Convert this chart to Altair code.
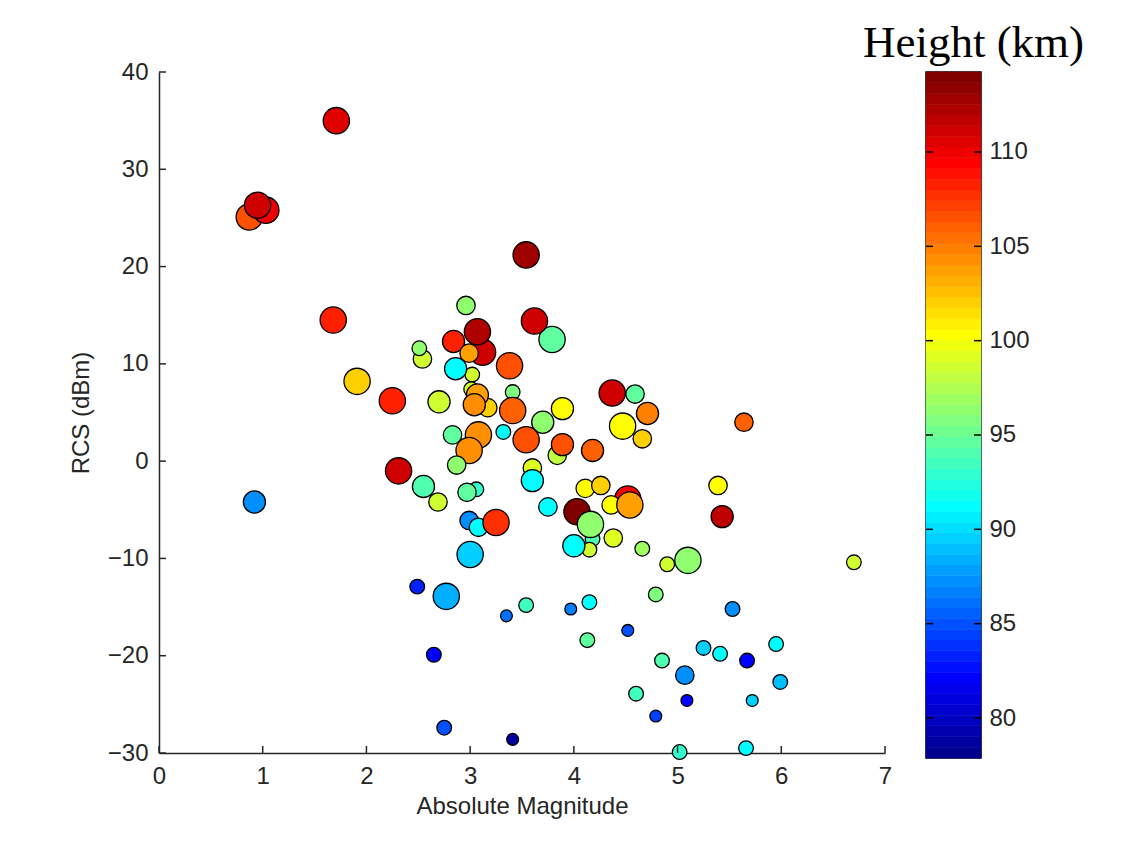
import altair as alt
import numpy as np
import pandas as pd

# ---- data ----
magnitude = [0.87, 1.03, 0.95, 1.71, 3.54, 1.68, 3.79, 3.62, 2.96, 3.12,
             3.07, 2.84, 2.99, 2.54, 2.51, 3.02, 2.86, 3.38, 1.91, 2.25,
             2.70, 3.01, 3.17, 3.07, 3.04, 3.41, 3.41, 3.70, 3.89, 2.83,
             3.32, 3.08, 2.99, 3.54, 3.84, 3.89, 3.60, 2.31, 2.87, 2.55,
             2.69, 3.06, 2.97, 3.60, 4.18, 4.37, 4.59, 4.71, 4.47, 4.66,
             5.64, 4.11, 4.26, 4.52, 4.36, 4.54, 4.03, 4.18, 4.15, 4.16,
             4.00, 4.38, 4.66, 4.90, 5.10, 5.39, 5.43, 6.70, 0.92, 2.99,
             3.08, 3.25, 3.00, 3.75, 2.49, 2.77, 3.54, 3.35, 3.97, 4.15,
             4.52, 4.79, 4.13, 2.65, 2.75, 3.41, 4.85, 4.60, 4.79, 5.07,
             5.09, 5.25, 5.41, 5.53, 5.67, 5.72, 5.95, 5.99, 5.02, 5.66]
rcs_dbm = [25.1, 25.8, 26.3, 35.0, 21.2, 14.5, 12.5, 14.4, 16.0, 11.2,
           13.3, 12.3, 11.1, 10.5, 11.6, 8.9, 9.5, 9.8, 8.2, 6.2,
           6.1, 7.4, 5.5, 6.8, 5.8, 7.1, 5.2, 4.0, 5.4, 2.7,
           3.0, 2.7, 1.1, 2.2, 0.6, 1.7, -0.7, -1.0, -0.4, -2.6,
           -4.2, -2.9, -3.2, -2.0, 1.1, 7.0, 6.9, 4.9, 3.6, 2.3,
           4.0, -2.8, -2.5, -3.9, -4.5, -4.5, -5.2, -8.0, -9.1, -6.5,
           -8.7, -7.9, -9.0, -10.6, -10.2, -2.5, -5.7, -10.4, -4.2, -6.1,
           -6.8, -6.3, -9.6, -4.7, -12.9, -13.9, -14.8, -15.9, -15.2, -14.5,
           -17.4, -13.7, -18.4, -19.9, -27.4, -28.6, -20.5, -23.9, -26.2, -22.0,
           -24.6, -19.2, -19.8, -15.2, -20.5, -24.6, -18.8, -22.7, -29.9, -29.5]
height_km = [106.5, 110, 111, 110.5, 113, 108.5, 94.5, 111, 96.5, 111,
             112.5, 108, 104, 98.5, 96.5, 98.5, 91.5, 106.5, 102, 108.5,
             98.5, 98.5, 102, 104, 104.5, 96, 106, 96.5, 100.5, 94.5,
             91.5, 104.5, 104.5, 106.5, 98, 106.5, 99, 111, 96.5, 94,
             98.5, 93, 94.5, 91.5, 106, 111, 94.5, 105, 100.5, 102,
             106, 100.5, 102, 109.5, 100.5, 104, 114, 94, 98.5, 96.5,
             91.5, 99, 97, 98.5, 96.5, 100.5, 111.5, 98.5, 87, 87.5,
             91.5, 107.5, 89.5, 91, 83, 88.5, 93.5, 86, 86.5, 91.5,
             85, 96, 94.5, 82, 85, 78.6, 94, 93.5, 84.5, 87,
             82, 89.5, 91, 87, 82, 89.5, 91.5, 89, 93, 91.5]
size_class = [5, 5, 5, 5, 5, 5, 5, 5, 3, 5,
              5, 4, 3, 3, 2, 2, 4, 5, 5, 5,
              4, 2, 3, 4, 4, 2, 5, 4, 4, 3,
              2, 5, 5, 5, 3, 4, 3, 5, 3, 4,
              3, 2, 3, 4, 4, 5, 3, 4, 5, 3,
              3, 3, 3, 5, 3, 5, 5, 2, 2, 5,
              4, 3, 2, 2, 5, 3, 4, 2, 4, 3,
              3, 5, 5, 3, 2, 5, 2, 1, 1, 2,
              1, 2, 2, 2, 2, 1, 2, 2, 1, 3,
              1, 2, 2, 2, 2, 1, 2, 2, 2, 2]

x_ticks = [0, 1, 2, 3, 4, 5, 6, 7]
y_ticks = [-30, -20, -10, 0, 10, 20, 30, 40]
cbar_ticks = [80, 85, 90, 95, 100, 105, 110]
cbar_min, cbar_max = 77.88, 114.24


# ---- MATLAB jet colormap (64 levels) ----
def jet(m=64):
    n = int(np.ceil(m / 4))
    u = np.concatenate([np.arange(1, n + 1) / n, np.ones(n - 1), np.arange(n, 0, -1) / n])
    g = int(np.ceil(n / 2)) - (1 if m % 4 == 1 else 0) + np.arange(1, len(u) + 1)
    r = g + n
    b = g - n
    J = np.zeros((m, 3))
    for i, v in zip(r, u):
        if i <= m:
            J[i - 1, 0] = v
    for i, v in zip(g, u):
        if 1 <= i <= m:
            J[i - 1, 1] = v
    for i, v in zip(b, u):
        if i >= 1:
            J[i - 1, 2] = v
    return ["#%02x%02x%02x" % tuple(int(round(c * 255)) for c in row) for row in J]


jet_colors = jet(64)
jet_scale = alt.Scale(type="quantize", domain=[cbar_min, cbar_max], range=jet_colors, nice=False, zero=False)

df = pd.DataFrame({"mag": magnitude, "rcs": rcs_dbm, "height": height_km, "s": size_class})

points = alt.Chart(df).mark_circle(stroke="black", strokeWidth=1.3, opacity=1).encode(
    x=alt.X("mag:Q", scale=alt.Scale(domain=[0, 7], nice=False, zero=False),
            axis=alt.Axis(values=x_ticks, format="d", labelFlush=False,
                          title="Absolute Magnitude", titlePadding=6)),
    y=alt.Y("rcs:Q", scale=alt.Scale(domain=[-30, 40], nice=False, zero=False),
            axis=alt.Axis(values=y_ticks, format="d", labelFlush=False,
                          title="RCS (dBm)", titlePadding=14)),
    color=alt.Color("height:Q", scale=jet_scale, legend=None),
    size=alt.Size("s:Q", scale=alt.Scale(domain=[1, 2, 3, 4, 5], range=[140, 215, 340, 490, 690]), legend=None),
)

ytick_marks = alt.Chart(pd.DataFrame({"rcs": y_ticks})).mark_rule(color="#262626", strokeWidth=1.5).encode(
    y="rcs:Q", x=alt.value(0), x2=alt.value(7))
xtick_marks = alt.Chart(pd.DataFrame({"mag": x_ticks})).mark_rule(color="#262626", strokeWidth=1.5).encode(
    x="mag:Q", y=alt.value(681), y2=alt.value(674))

scatter = alt.layer(points, ytick_marks, xtick_marks).properties(
    width=726, height=681, view=alt.ViewBackground(stroke="transparent"))

# ---- colorbar ----
edges = np.linspace(cbar_min, cbar_max, 65)
bands = pd.DataFrame({"lo": edges[:-1], "hi": edges[1:], "mid": (edges[:-1] + edges[1:]) / 2})

cb_rect = alt.Chart(bands).mark_rect(strokeWidth=0.6).encode(
    y=alt.Y("lo:Q", scale=alt.Scale(domain=[cbar_min, cbar_max], nice=False, zero=False),
            axis=alt.Axis(orient="right", values=cbar_ticks, format="d", labelFlush=False,
                          title=None, labelPadding=8, domain=False)),
    y2="hi:Q",
    x=alt.value(0), x2=alt.value(55),
    color=alt.Color("mid:Q", scale=jet_scale, legend=None),
    stroke=alt.Color("mid:Q", scale=jet_scale, legend=None),
)
cb_tl = alt.Chart(pd.DataFrame({"lo": cbar_ticks})).mark_rule(color="black", strokeWidth=1.5).encode(
    y="lo:Q", x=alt.value(0), x2=alt.value(7))
cb_tr = alt.Chart(pd.DataFrame({"lo": cbar_ticks})).mark_rule(color="black", strokeWidth=1.5).encode(
    y="lo:Q", x=alt.value(48), x2=alt.value(55))

colorbar = alt.layer(cb_rect, cb_tl, cb_tr).properties(
    width=55, height=686,
    view=alt.ViewBackground(stroke="black", strokeWidth=1.5),
    title=alt.TitleParams("Height (km)", font="Liberation Serif", fontSize=45, fontWeight="normal",
                          color="black", anchor="middle", dx=20, offset=-30, baseline="alphabetic"),
)

chart = alt.hconcat(scatter, colorbar, spacing=41, bounds="flush").properties(
    padding={"left": 60, "top": 11, "right": 5, "bottom": 5}, background="white"
).configure_axis(
    labelFont="Liberation Sans", labelFontSize=24, labelColor="#262626",
    titleFont="Liberation Sans", titleFontSize=24, titleFontWeight="normal", titleColor="#262626",
    domainColor="#262626", domainWidth=1.5, grid=False, ticks=False, tickSize=0, labelPadding=11,
)

chart.save("out.html", embed_options={"renderer": "svg", "actions": False})
